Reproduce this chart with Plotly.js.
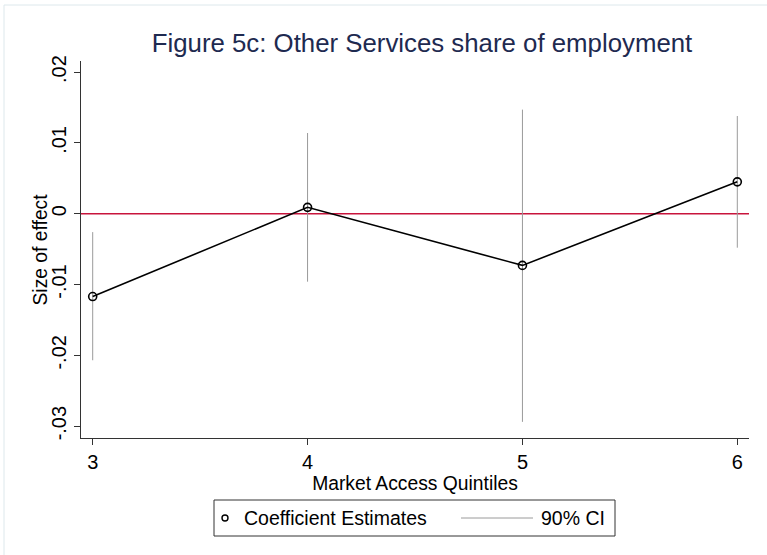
<!DOCTYPE html>
<html>
<head>
<meta charset="utf-8">
<script src="https://cdn.plot.ly/plotly-3.0.1.min.js"></script>
<style>html,body{margin:0;padding:0;background:#fff;}#chart{width:767px;height:555px;}</style>
</head>
<body>
<div id="chart"></div>
<script>
// Data
const quintiles = [3, 4, 5, 6];
const coef      = [-0.0117, 0.0009, -0.0073, 0.0045];
const ciLow     = [-0.0207, -0.0096, -0.0294, -0.0048];
const ciHigh    = [-0.0026, 0.0114, 0.0147, 0.0138];
const xTickVals = [3, 4, 5, 6];
const yTickVals = [-0.03, -0.02, -0.01, 0, 0.01, 0.02];
const yTickText = ['-.03', '-.02', '-.01', '0', '.01', '.02'];

// CI segments
const ciX = [], ciY = [];
for (let i = 0; i < quintiles.length; i++) {
  ciX.push(quintiles[i], quintiles[i], null);
  ciY.push(ciLow[i], ciHigh[i], null);
}

const FONT = 'Liberation Sans, Arial, Helvetica, sans-serif';

const traces = [
  {x: ciX, y: ciY, mode: 'lines', type: 'scatter', name: '90% CI',
   line: {color: '#9a9a9a', width: 1}, showlegend: false, hoverinfo: 'skip'},
  {x: quintiles, y: coef, mode: 'lines', type: 'scatter',
   line: {color: '#000', width: 1.6}, showlegend: false},
  {x: quintiles, y: coef, mode: 'markers', type: 'scatter', name: 'Coefficient Estimates',
   marker: {symbol: 'circle-open', size: 8, color: '#000', line: {width: 1.6, color: '#000'}},
   showlegend: false}
];

// plot area in px: x 81..749, y 61..438
const W = 668, H = 377;
const px = v => (v - 81) / W;
const py = v => (438 - v) / H;

const layout = {
  width: 767, height: 555,
  margin: {l: 81, r: 18, t: 61, b: 117},
  paper_bgcolor: '#fff', plot_bgcolor: '#fff',
  font: {family: FONT, color: '#000', size: 19},
  showlegend: false,
  title: {text: 'Figure 5c: Other Services share of employment',
          font: {family: FONT, size: 25.8, color: '#1e2a50'},
          xref: 'container', x: 422 / 767, xanchor: 'center',
          yref: 'container', y: 1 - 43 / 555, yanchor: 'middle'},
  xaxis: {range: [2.9456, 6.0544], tickvals: xTickVals, ticktext: xTickVals.map(String),
          showgrid: false, zeroline: false, showline: true, linecolor: '#333', linewidth: 1,
          ticks: 'outside', ticklen: 6, tickcolor: '#333', tickfont: {size: 20},
          title: {text: 'Market Access Quintiles', font: {size: 19.3}, standoff: 1}},
  yaxis: {range: [-0.03168, 0.02157], tickvals: yTickVals, ticktext: yTickText,
          tickangle: -90, showgrid: false, zeroline: false, showline: true,
          linecolor: '#333', linewidth: 1, ticks: 'outside', ticklen: 6, tickcolor: '#333',
          tickfont: {size: 20}},
  shapes: [
    {type: 'line', xref: 'paper', yref: 'y', x0: 0, x1: 1, y0: 0, y1: 0,
     line: {color: '#c8143c', width: 1.5}, layer: 'below'},
    // outer faint frame
    {type: 'rect', xref: 'paper', yref: 'paper', x0: px(4), x1: px(790), y0: py(5), y1: py(580),
     line: {color: '#dde8ec', width: 1}, layer: 'below'},
    // legend box
    {type: 'rect', xref: 'paper', yref: 'paper', x0: px(214), x1: px(615), y0: py(500), y1: py(536),
     line: {color: '#333', width: 1}, fillcolor: 'rgba(0,0,0,0)'},
    // legend marker
    {type: 'circle', xref: 'paper', yref: 'paper', xsizemode: 'pixel', ysizemode: 'pixel',
     xanchor: px(225), yanchor: py(518), x0: -3, x1: 3, y0: -3, y1: 3,
     line: {color: '#000', width: 1.4}},
    // legend line sample
    {type: 'line', xref: 'paper', yref: 'paper', x0: px(461), x1: px(533), y0: py(518), y1: py(518),
     line: {color: '#9a9a9a', width: 1}}
  ],
  annotations: [
    {text: 'Size of effect', xref: 'paper', yref: 'paper', x: px(40), y: 0.5, textangle: -90,
     xanchor: 'center', yanchor: 'middle', showarrow: false, font: {size: 19.3}},
    {text: 'Coefficient Estimates', xref: 'paper', yref: 'paper', x: px(242), y: py(518),
     xanchor: 'left', yanchor: 'middle', showarrow: false, font: {size: 19.5}},
    {text: '90% CI', xref: 'paper', yref: 'paper', x: px(607), y: py(518),
     xanchor: 'right', yanchor: 'middle', showarrow: false, font: {size: 19.5}}
  ]
};

Plotly.newPlot('chart', traces, layout, {displayModeBar: false, staticPlot: true});
</script>
</body>
</html>
